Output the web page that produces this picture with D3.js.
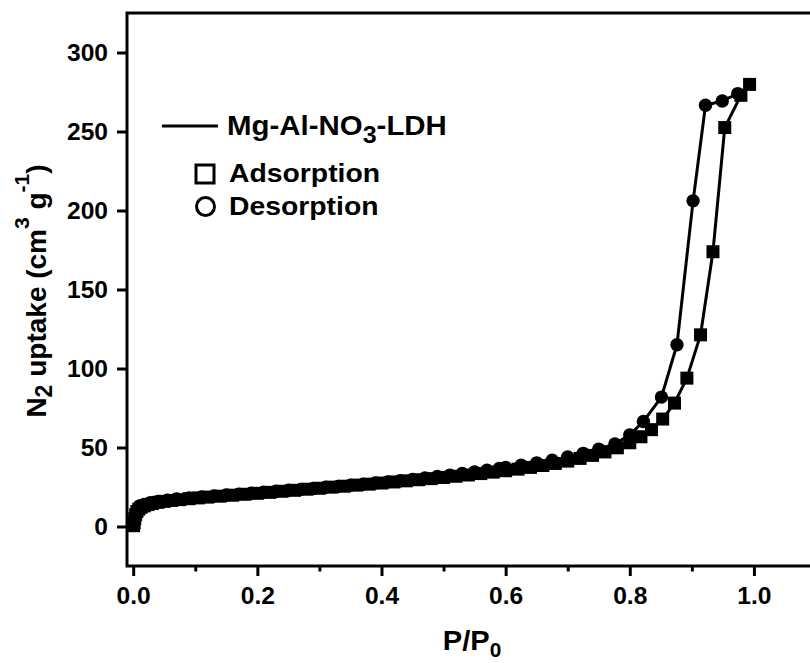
<!DOCTYPE html>
<html>
<head>
<meta charset="utf-8">
<script src="https://cdn.jsdelivr.net/npm/d3@7"></script>
<style>
  body { margin: 0; background: #fff; }
  svg { display: block; }
  text { font-family: "Liberation Sans", Arial, sans-serif; font-weight: bold; fill: #000; }
</style>
</head>
<body>
<svg id="chart" width="810" height="663"></svg>
<script>
// N2 sorption isotherm of Mg-Al-NO3-LDH
const adsorptionP = [0.0008, 0.0015, 0.0025, 0.004, 0.006, 0.009, 0.013, 0.018, 0.024, 0.031,
  0.040, 0.050, 0.062, 0.075, 0.090, 0.105, 0.120, 0.140, 0.160, 0.180,
  0.200, 0.220, 0.240, 0.260, 0.280, 0.300, 0.320, 0.340, 0.360, 0.380,
  0.400, 0.420, 0.440, 0.460, 0.480, 0.500, 0.520, 0.540, 0.560, 0.580,
  0.600, 0.620, 0.640, 0.660, 0.680, 0.700, 0.720, 0.740, 0.760, 0.780,
  0.800, 0.818, 0.835, 0.853, 0.872, 0.892, 0.914, 0.934, 0.953, 0.979, 0.993];
const adsorptionV = [0.5, 2.5, 5.0, 7.5, 9.5, 11.0, 12.2, 13.1, 13.9, 14.6,
  15.3, 15.9, 16.5, 17.0, 17.6, 18.1, 18.6, 19.2, 19.8, 20.4,
  21.0, 21.6, 22.3, 22.9, 23.6, 24.2, 24.9, 25.5, 26.2, 26.8,
  27.5, 28.2, 28.9, 29.6, 30.3, 31.0, 31.8, 32.6, 33.5, 34.4,
  35.3, 36.3, 37.4, 38.6, 39.9, 41.4, 43.1, 45.0, 47.2, 49.8,
  53.0, 56.8, 61.3, 68.0, 78.1, 93.9, 121.3, 173.9, 252.5, 272.9, 279.8];

const desorptionP = [0.974, 0.949, 0.922, 0.902, 0.876, 0.851, 0.822, 0.800, 0.776, 0.750,
  0.725, 0.700, 0.675, 0.650, 0.625, 0.600, 0.590, 0.570, 0.550, 0.530,
  0.510, 0.490, 0.470, 0.450, 0.430, 0.410, 0.390, 0.370, 0.350, 0.330,
  0.310, 0.290, 0.270, 0.250, 0.230, 0.210, 0.190, 0.170, 0.150, 0.130,
  0.110, 0.090, 0.070, 0.055, 0.040, 0.028, 0.018, 0.010];
const desorptionV = [274.0, 269.3, 266.6, 206.1, 115.0, 81.9, 66.5, 58.0, 52.2, 49.0,
  46.3, 44.0, 42.0, 40.3, 38.8, 37.4, 36.8, 35.6, 34.5, 33.5,
  32.5, 31.6, 30.7, 29.8, 29.0, 28.2, 27.5, 26.8, 26.1, 25.4,
  24.8, 24.1, 23.5, 22.9, 22.3, 21.7, 21.1, 20.5, 19.9, 19.3,
  18.7, 18.1, 17.4, 16.7, 15.9, 15.0, 14.0, 12.8];

const xTicks = [0, 0.2, 0.4, 0.6, 0.8, 1.0];
const xMinorTicks = [0.1, 0.3, 0.5, 0.7, 0.9];
const yTicks = [0, 50, 100, 150, 200, 250, 300];

const svg = d3.select("#chart");
const plot = { left: 127, top: 13, right: 816, bottom: 566 };

const x = d3.scaleLinear().domain([-0.01, 1.1]).range([plot.left, plot.right]);
const y = d3.scaleLinear().domain([-25, 325]).range([plot.bottom, plot.top]);

const ads = adsorptionP.map((p, i) => ({ p, v: adsorptionV[i] }));
const des = desorptionP.map((p, i) => ({ p, v: desorptionV[i] }));

// plot frame
svg.append("rect")
  .attr("x", plot.left).attr("y", plot.top)
  .attr("width", plot.right - plot.left).attr("height", plot.bottom - plot.top)
  .attr("fill", "none").attr("stroke", "#000").attr("stroke-width", 3);

// axes
const tickScaleX = 1.07;
const xAxis = d3.axisBottom(x).tickValues(xTicks).tickSize(10).tickPadding(0)
  .tickFormat(d3.format(".1f"));
const gx = svg.append("g").attr("transform", `translate(0,${plot.bottom})`).call(xAxis);
gx.select(".domain").remove();
gx.selectAll(".tick line").attr("stroke", "#000").attr("stroke-width", 3);
gx.selectAll(".tick text")
  .attr("y", 38.5).attr("dy", 0)
  .attr("transform", `scale(${tickScaleX},1)`)
  .style("font-size", "23px");

const xMinor = d3.axisBottom(x).tickValues(xMinorTicks).tickSize(5.5).tickFormat("");
const gxm = svg.append("g").attr("transform", `translate(0,${plot.bottom})`).call(xMinor);
gxm.select(".domain").remove();
gxm.selectAll(".tick line").attr("stroke", "#000").attr("stroke-width", 3);

const yAxis = d3.axisLeft(y).tickValues(yTicks).tickSize(10).tickFormat(d3.format("d"));
const gy = svg.append("g").attr("transform", `translate(${plot.left},0)`).call(yAxis);
gy.select(".domain").remove();
gy.selectAll(".tick line").attr("stroke", "#000").attr("stroke-width", 3);
gy.selectAll(".tick text")
  .attr("x", -19 / tickScaleX).attr("dy", "0.36em")
  .attr("transform", `scale(${tickScaleX},1)`)
  .style("font-size", "23px");

// isotherm branches
const line = d3.line().x(d => x(d.p)).y(d => y(d.v));
[ads, des].forEach(series => {
  svg.append("path").datum(series)
    .attr("d", line)
    .attr("fill", "none").attr("stroke", "#000")
    .attr("stroke-width", 3).attr("stroke-linejoin", "round");
});

const sq = 13;
svg.append("g").selectAll("circle").data(des).join("circle")
  .attr("cx", d => x(d.p)).attr("cy", d => y(d.v)).attr("r", 6.7).attr("fill", "#000");
svg.append("g").selectAll("rect").data(ads).join("rect")
  .attr("x", d => x(d.p) - sq / 2).attr("y", d => y(d.v) - sq / 2)
  .attr("width", sq).attr("height", sq).attr("fill", "#000");

// legend
const legendScale = 1.09;
const lg = svg.append("g");
lg.append("line").attr("x1", 162).attr("x2", 218).attr("y1", 126).attr("y2", 126)
  .attr("stroke", "#000").attr("stroke-width", 3);
const l1 = lg.append("text").attr("transform", `translate(227,135) scale(${legendScale},1)`)
  .style("font-size", "27px");
l1.append("tspan").text("Mg-Al-NO");
l1.append("tspan").attr("dy", 8).style("font-size", "23px").text("3");
l1.append("tspan").attr("dy", -8).text("-LDH");

lg.append("rect").attr("x", 196).attr("y", 165).attr("width", 18).attr("height", 18)
  .attr("fill", "none").attr("stroke", "#000").attr("stroke-width", 3);
lg.append("text").attr("transform", `translate(229,182) scale(${legendScale},1)`)
  .style("font-size", "26px").text("Adsorption");

lg.append("circle").attr("cx", 205.5).attr("cy", 206.5).attr("r", 9)
  .attr("fill", "none").attr("stroke", "#000").attr("stroke-width", 3);
lg.append("text").attr("transform", `translate(229,215) scale(${legendScale},1)`)
  .style("font-size", "26px").text("Desorption");

// axis titles
const xt = svg.append("text").attr("transform", "translate(472,650) scale(1.04,1)")
  .attr("text-anchor", "middle").style("font-size", "28px");
xt.append("tspan").text("P/P");
xt.append("tspan").attr("dy", 7).style("font-size", "20px").text("0");

const yt = svg.append("text").attr("transform", "translate(46,291) rotate(-90)")
  .attr("text-anchor", "middle").style("font-size", "28px");
yt.append("tspan").text("N");
yt.append("tspan").attr("dy", 6).style("font-size", "23px").text("2");
yt.append("tspan").attr("dy", -6).text(" uptake (cm");
yt.append("tspan").attr("dy", -17).style("font-size", "21px").text("3");
yt.append("tspan").attr("dy", 17).text(" g");
yt.append("tspan").attr("dy", -17).style("font-size", "21px").text("-1");
yt.append("tspan").attr("dy", 17).text(")");
</script>
</body>
</html>
